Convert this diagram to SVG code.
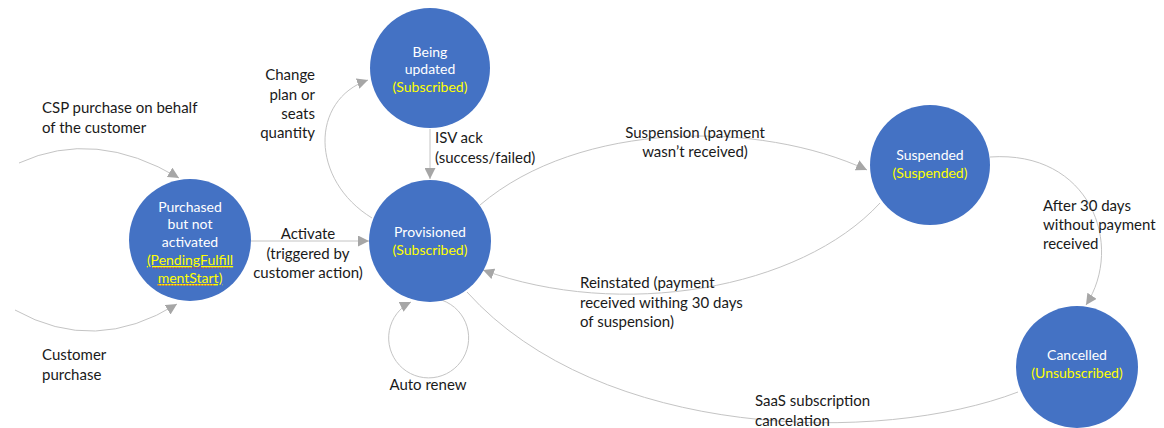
<svg xmlns="http://www.w3.org/2000/svg" width="1164" height="428" viewBox="0 0 1164 428">
  <style>
    .edge { fill: none; stroke: #c4c4c4; stroke-width: 1; }
    .state { fill: #4472c4; }
    .name { font-family: Lato, "Open Sans", sans-serif; font-size: 14px; fill: #ffffff; text-anchor: middle; }
    .status { font-family: Lato, "Open Sans", sans-serif; font-size: 14px; fill: #ffff00; text-anchor: middle; }
    .label { font-family: Lato, "Open Sans", sans-serif; font-size: 15px; fill: #1a1a1a; }
    .squiggle { fill: none; stroke: #e03030; stroke-width: 1; stroke-dasharray: 1.5 1.5; }
  </style>
  <defs>
    <marker id="arrow" viewBox="0 0 10 10" refX="10" refY="5" markerWidth="11" markerHeight="11" markerUnits="userSpaceOnUse" orient="auto">
      <path d="M0,0 L10,5 L0,10 z" fill="#a6a6a6"/>
    </marker>
  </defs>
  <rect width="1164" height="428" fill="#ffffff"/>

  <!-- transitions -->
  <g id="connectors">
    <path class="edge" d="M19,163 Q95,128 179,178" marker-end="url(#arrow)"/>
    <path class="edge" d="M15,310 Q95,355 177,304" marker-end="url(#arrow)"/>
    <path class="edge" d="M251,241 L369,241" marker-end="url(#arrow)"/>
    <path class="edge" d="M430,129 L430,179" marker-end="url(#arrow)"/>
    <path class="edge" d="M372,218 C310,180 310,100 368,80" marker-end="url(#arrow)"/>
    <path class="edge" d="M480,205 C580,120 760,120 867,170" marker-end="url(#arrow)"/>
    <path class="edge" d="M880,203 C800,290 620,320 483,270" marker-end="url(#arrow)"/>
    <path class="edge" d="M990,157 C1090,150 1125,245 1086,305" marker-end="url(#arrow)"/>
    <path class="edge" d="M467,292 C600,440 880,445 1018,392"/>
    <path class="edge" d="M438,299 A40,40 0 1 1 411,302" marker-end="url(#arrow)"/>
  </g>

  <!-- transition labels -->
  <g id="edge-labels">
    <text class="label" x="42" y="113">CSP purchase on behalf</text>
    <text class="label" x="42" y="133">of the customer</text>
    <text class="label" x="42" y="360">Customer</text>
    <text class="label" x="42" y="380">purchase</text>
    <text class="label" text-anchor="middle" x="308" y="239">Activate</text>
    <text class="label" text-anchor="middle" x="308" y="259">(triggered by</text>
    <text class="label" text-anchor="middle" x="308" y="278">customer action)</text>
    <text class="label" text-anchor="end" x="315" y="80">Change</text>
    <text class="label" text-anchor="end" x="315" y="100">plan or</text>
    <text class="label" text-anchor="end" x="315" y="119">seats</text>
    <text class="label" text-anchor="end" x="315" y="138">quantity</text>
    <text class="label" x="435" y="143">ISV ack</text>
    <text class="label" x="435" y="163">(success/failed)</text>
    <text class="label" text-anchor="middle" x="695" y="138">Suspension (payment</text>
    <text class="label" text-anchor="middle" x="695" y="157">wasn’t received)</text>
    <text class="label" x="580" y="288">Reinstated (payment</text>
    <text class="label" x="580" y="308">received withing 30 days</text>
    <text class="label" x="580" y="327">of suspension)</text>
    <text class="label" x="1043" y="211">After 30 days</text>
    <text class="label" x="1043" y="230">without payment</text>
    <text class="label" x="1043" y="249">received</text>
    <text class="label" text-anchor="middle" x="428" y="390">Auto renew</text>
    <text class="label" x="755" y="406">SaaS subscription</text>
    <text class="label" x="755" y="426">cancelation</text>
  </g>

  <!-- states -->
  <g id="purchased">
    <circle class="state" cx="190" cy="240" r="61"/>
    <text class="name" x="190" y="212">Purchased</text>
    <text class="name" x="190" y="229">but not</text>
    <text class="name" x="190" y="247">activated</text>
    <text class="status" x="190" y="265" text-decoration="underline">(PendingFulfill</text>
    <text class="status" x="190" y="283" text-decoration="underline">mentStart)</text>
    <path class="squiggle" d="M153,268 L231,268"/>
    <path class="squiggle" d="M158,285 L215,285"/>
  </g>
  <g id="being-updated">
    <circle class="state" cx="430" cy="68" r="60"/>
    <text class="name" x="430" y="57">Being</text>
    <text class="name" x="430" y="74">updated</text>
    <text class="status" x="430" y="92">(Subscribed)</text>
  </g>
  <g id="provisioned">
    <circle class="state" cx="430" cy="241" r="61"/>
    <text class="name" x="430" y="237">Provisioned</text>
    <text class="status" x="430" y="255">(Subscribed)</text>
  </g>
  <g id="suspended">
    <circle class="state" cx="930" cy="165" r="60"/>
    <text class="name" x="930" y="160">Suspended</text>
    <text class="status" x="930" y="178">(Suspended)</text>
  </g>
  <g id="cancelled">
    <circle class="state" cx="1077" cy="367" r="61"/>
    <text class="name" x="1077" y="360">Cancelled</text>
    <text class="status" x="1077" y="378">(Unsubscribed)</text>
  </g>
</svg>
